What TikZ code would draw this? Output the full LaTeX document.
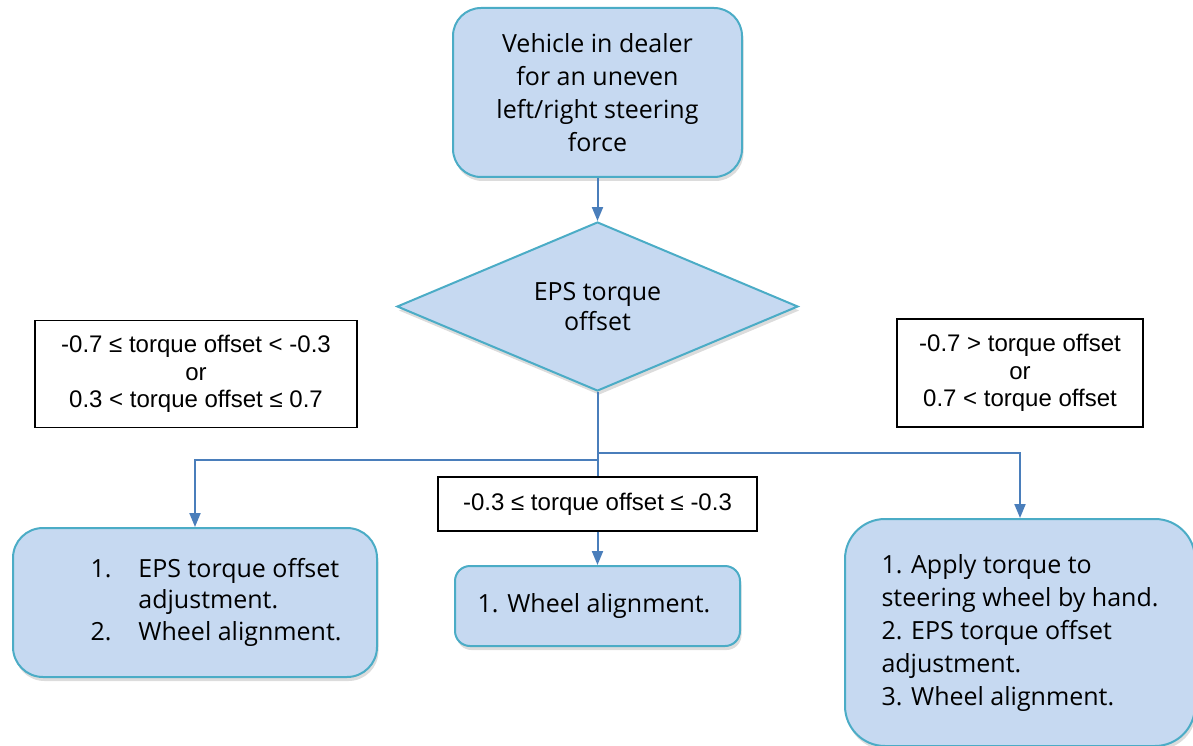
\documentclass[tikz,border=0pt]{standalone}
\usepackage{fontspec}
\setmainfont{Open Sans}
\newfontfamily\labfont{Liberation Sans}
\usetikzlibrary{shapes.geometric,shadows,arrows.meta}
\definecolor{boxfill}{HTML}{C6D9F1}
\definecolor{boxline}{HTML}{4BACC6}
\definecolor{arrowc}{HTML}{4A7EBB}
\begin{document}
\begin{tikzpicture}[x=1pt,y=-1pt,
  shp/.style={draw=boxline, fill=boxfill, line width=2pt,
    drop shadow={opacity=0.28, shadow xshift=1.5pt, shadow yshift=-4pt},
    font=\fontsize{25}{33}\selectfont, align=center, inner sep=0pt},
  rbox/.style={shp, rectangle, rounded corners=#1},
  lbl/.style={draw=black, line width=1.3pt, fill=white, rectangle,
    font=\labfont\fontsize{24}{27.5}\selectfont, align=center, inner sep=0pt},
  conn/.style={draw=arrowc, line width=2pt},
  arr/.style={conn, -{Triangle[length=14pt,width=11pt]}, shorten >=0pt}
]
\useasboundingbox (0,0) rectangle (1193,746);
\clip (0,0) rectangle (1193,746);

\node[rbox=28pt, minimum width=289pt, minimum height=169pt] (top) at (597.5,92.5)
  {Vehicle in dealer\\for an uneven\\left/right steering\\force};

\node[shp, diamond, shape aspect=2.37, minimum width=401pt, minimum height=169pt,
  font=\fontsize{25}{30}\selectfont] (dia) at (597.5,306.5) {EPS torque\\offset};

\node[lbl, minimum width=322pt, minimum height=107pt] (llab) at (196,374)
  {-0.7 ≤ torque offset < -0.3\\or\\0.3 < torque offset ≤ 0.7};
\node[lbl, minimum width=246pt, minimum height=108pt] (rlab) at (1020,373)
  {-0.7 > torque offset\\or\\0.7 < torque offset};
\node[lbl, minimum width=319pt, minimum height=54pt] (mlab) at (597.5,504)
  {-0.3 ≤ torque offset ≤ -0.3};

\node[rbox=30pt, minimum width=364pt, minimum height=149pt,
  font=\fontsize{25}{31.5}\selectfont] (lbox) at (195,602.5)
  {\hspace*{42pt}\begin{tabular}{@{}l@{\hspace{27pt}}l@{}}1. & EPS torque offset\\ & adjustment.\\2. & Wheel alignment.\end{tabular}};

\node[rbox=15pt, minimum width=285pt, minimum height=80pt] (mbox) at (597.5,606)
  {1. Wheel alignment.\hspace*{7pt}};

\node[rbox=40pt, minimum width=350pt, minimum height=227pt, align=left] (rbox) at (1020,632.5)
  {1. Apply torque to\\steering wheel by hand.\hspace*{8pt}\\2. EPS torque offset\\adjustment.\\3. Wheel alignment.};

\coordinate (jl) at (597.5,460);
\coordinate (jr) at (597.5,453);

\draw[arr] (top.south) -- (dia.north);
\draw[conn] (dia.south) -- (mlab.north);
\draw[arr] (jl) -| (lbox.north);
\draw[arr] (jr) -| (rbox.north);
\draw[arr] (mlab.south) -- (mbox.north);
\end{tikzpicture}
\end{document}
